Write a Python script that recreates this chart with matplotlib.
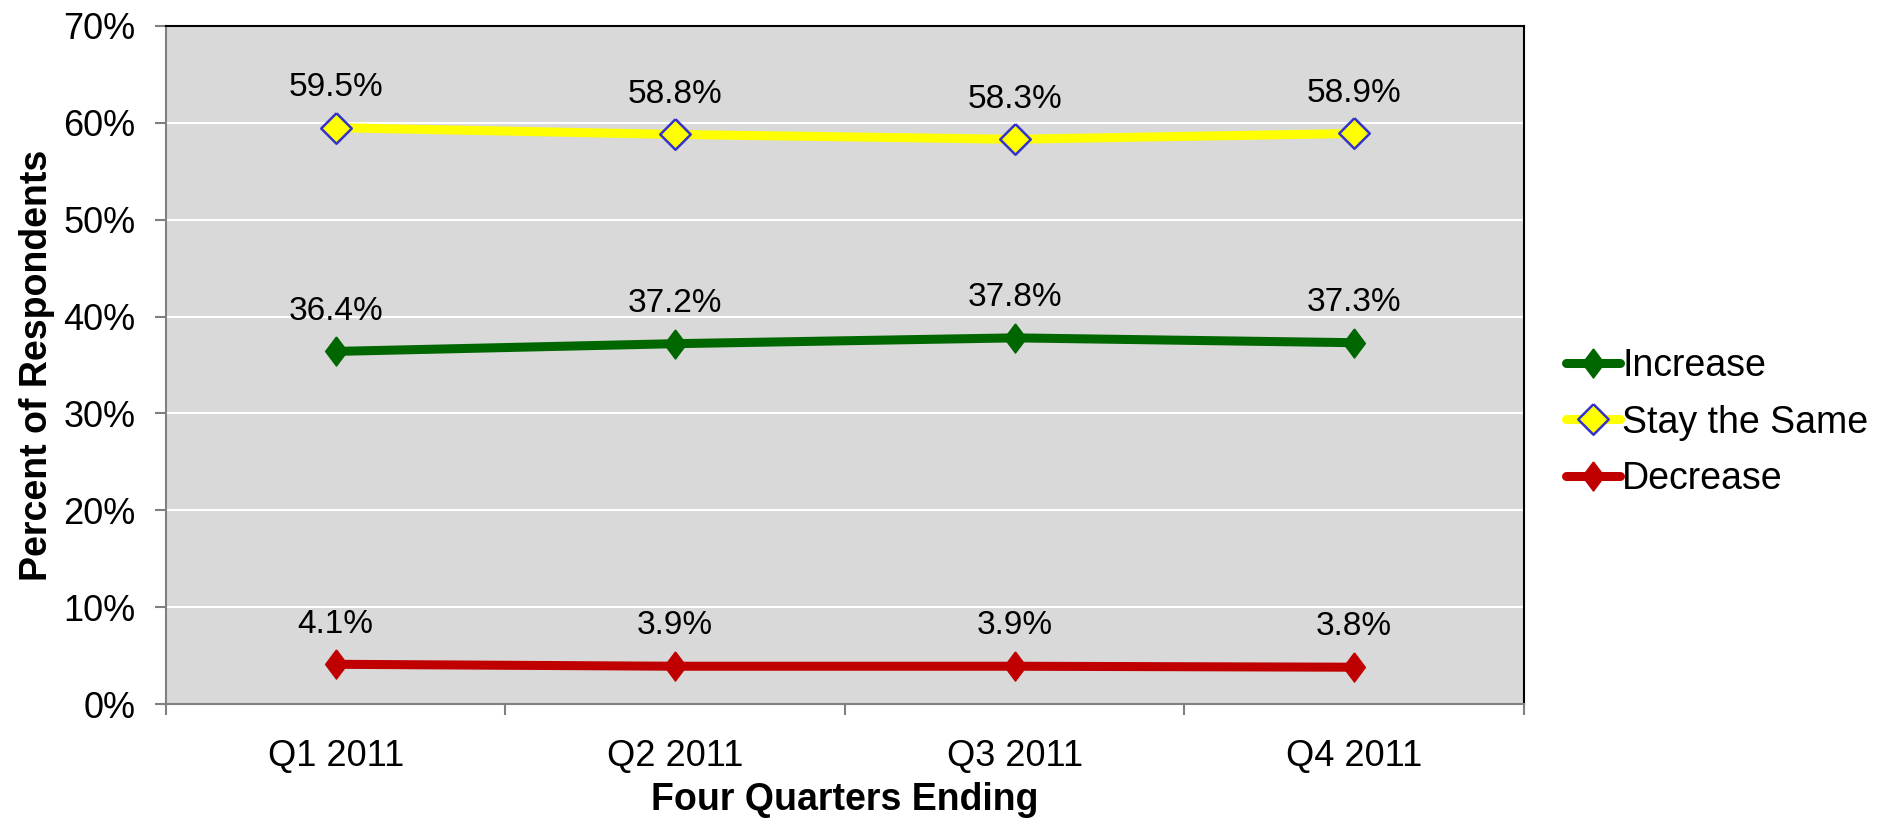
import matplotlib
matplotlib.use("Agg")
import matplotlib.pyplot as plt
import numpy as np

plt.rcParams['font.family'] = ['Liberation Sans', 'DejaVu Sans']

quarters = ['Q1 2011', 'Q2 2011', 'Q3 2011', 'Q4 2011']
increase = [36.4, 37.2, 37.8, 37.3]
same = [59.5, 58.8, 58.3, 58.9]
decrease = [4.1, 3.9, 3.9, 3.8]

# diamond shapes: tall one for filled markers, square one for the yellow
tall_diamond = [(0, 1), (0.75, 0), (0, -1), (-0.75, 0), (0, 1)]
square_diamond = [(0, 1), (1, 0), (0, -1), (-1, 0), (0, 1)]

fig = plt.figure(figsize=(18.9, 8.19), dpi=100)
ax = fig.add_axes([0.0878, 0.1404, 0.7185, 0.8279])
ax.set_facecolor('#D9D9D9')

x = np.arange(len(quarters))
ax.plot(x, increase, color='#006600', lw=6.5, marker=tall_diamond,
        markersize=21, label='Increase', solid_capstyle='round')
ax.plot(x, same, color='#FFFF00', lw=6.5, marker=square_diamond,
        markersize=22, markerfacecolor='#FFFF00', markeredgecolor='#3333CC',
        markeredgewidth=1.8, label='Stay the Same', solid_capstyle='round')
ax.plot(x, decrease, color='#C00000', lw=6.5, marker=tall_diamond,
        markersize=21, label='Decrease', solid_capstyle='round')

for series in (increase, same, decrease):
    for xi, v in zip(x, series):
        ax.annotate('{:.1f}%'.format(v), (xi, v), xytext=(0, 29),
                    textcoords='offset points', ha='center', va='center',
                    fontsize=24)

ax.set_xlim(-0.5, len(quarters) - 0.5)
ax.set_ylim(0, 70)
ax.set_yticks(range(0, 71, 10))
ax.set_yticklabels(['{}%'.format(t) for t in range(0, 71, 10)], fontsize=26)
ax.yaxis.grid(True, color='white', lw=1.5)
ax.set_axisbelow(True)

ax.set_xticks(x)
ax.set_xticklabels(quarters, fontsize=26)
ax.set_xticks(np.arange(-0.5, len(quarters)), minor=True)
ax.tick_params(axis='x', which='major', length=0, pad=25)
ax.tick_params(axis='x', which='minor', length=8, width=1.5, color='#808080',
               direction='out')
ax.tick_params(axis='y', length=8, width=1.5, color='#808080', pad=14)

for side in ('left', 'bottom'):
    ax.spines[side].set_color('#808080')
    ax.spines[side].set_linewidth(1.5)
for side in ('top', 'right'):
    ax.spines[side].set_color('black')
    ax.spines[side].set_linewidth(1.5)

ax.set_xlabel('Four Quarters Ending', fontsize=27, fontweight='bold', labelpad=6)
ax.set_ylabel('Percent of Respondents', fontsize=27, fontweight='bold', labelpad=6)

ax.legend(loc='center left', bbox_to_anchor=(1.006, 0.415), frameon=False,
          fontsize=27, handlelength=1.45, handletextpad=0.05, labelspacing=0.55)

fig.savefig('out.png', dpi=100)
